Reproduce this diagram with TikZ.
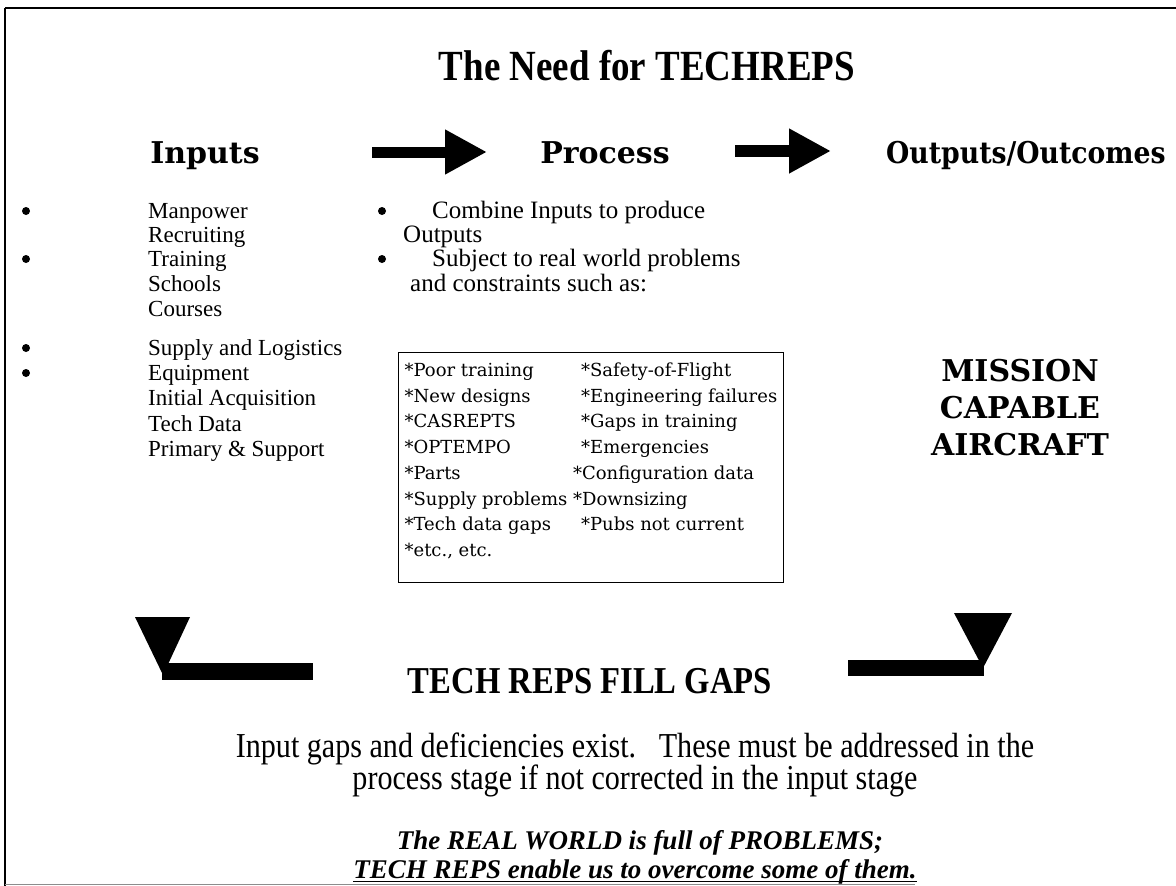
\documentclass[tikz,border=0pt]{standalone}
\usepackage{fontspec}
\setmainfont{Liberation Serif}
\newfontfamily\CondSerif{Liberation Serif}[FakeStretch=0.86]
\newfontfamily\WideSerif{DejaVu Serif}
\usetikzlibrary{arrows.meta,positioning}
\newcommand{\ItemSize}{\fontsize{23}{25}\selectfont}
\newcommand{\ColTwo}{\hspace*{8pt}}
\tikzset{
  frame/.style={line width=1.5pt},
  title/.style={font={\CondSerif\bfseries\fontsize{43}{48}\selectfont}, inner sep=0pt, anchor=base},
  heading/.style={font={\WideSerif\bfseries\fontsize{30}{36}\selectfont}, inner sep=0pt, anchor=base},
  item/.style={font=\ItemSize, inner sep=0pt, anchor=base west},
  procItem/.style={item, font={\fontsize{25}{27}\selectfont}},
  dot/.style={circle, fill=black, inner sep=0pt, minimum size=8pt},
  fatArrow/.style={-{Triangle[length=42pt,width=42pt]}, line width=11pt},
  problemBox/.style={draw, line width=1.2pt, anchor=north west, minimum width=379pt,
    minimum height=228pt, inner sep=6pt, font={\WideSerif\fontsize{18}{25.7}\selectfont}},
  outcome/.style={font={\WideSerif\bfseries\fontsize{30}{37}\selectfont}, align=center, inner sep=0pt},
  gapHead/.style={font={\CondSerif\bfseries\fontsize{38}{42}\selectfont}, inner sep=0pt, anchor=base},
  gapText/.style={font={\CondSerif\fontsize{35}{36}\selectfont}, inner sep=0pt, anchor=base},
  moral/.style={font={\bfseries\itshape\fontsize{27}{29}\selectfont}, inner sep=0pt, anchor=base}
}

\begin{document}
\begin{tikzpicture}[x=1pt,y=-1pt]
  \useasboundingbox (0,0) rectangle (1176,886);
  % page frame (top, left, bottom)
  \draw[frame, line width=2pt] (5,8) -- (1176,8);
  \draw[frame] (5,8) -- (5,886);
  \draw[black!45, line width=1pt] (5,884) -- (915,884);

  \node[title] (title) at (647,80) {The Need for TECHREPS};

  % column headings
  \node[heading] (inputs) at (205,163) {Inputs};
  \node[heading] (process) at (605,163) {Process};
  \node[heading] (outputs) at (1026,163) {\scalebox{0.89}[1]{Outputs/Outcomes}};
  \coordinate (a1s) at (372,152);
  \coordinate (a1e) at (487,152);
  \coordinate (a2s) at (735,151);
  \coordinate (a2e) at (831,151);
  \draw[fatArrow] (a1s) -- (a1e);
  \draw[fatArrow, line width=12pt] (a2s) -- (a2e);

  % inputs list
  \foreach \y/\txt [count=\i] in {218/Manpower, 242/Recruiting, 266/Training, 291/Schools,
      316/Courses, 355/Supply and Logistics, 380/Equipment, 405/Initial Acquisition,
      431/Tech Data, 456/Primary \& Support}{
    \node[item] (inp\i) at (148,\y) {\txt};
  }
  \foreach \y [count=\i] in {211,259,348,373}{
    \node[dot] (ib\i) at (26,\y) {};
  }

  % process bullets
  \node[dot] (pb1) at (382,211) {};
  \node[dot] (pb2) at (382,259) {};
  \node[procItem] (proc1) at (432,218) {Combine Inputs to produce};
  \node[procItem] (proc2) at (403,242) {Outputs};
  \node[procItem] (proc3) at (432,266) {Subject to real world problems};
  \node[procItem] (proc4) at (410,291) {and constraints such as:};

  % problems box
  \node[problemBox] (problems) at (398,352) {%
    \begin{tabular}{@{}l@{ }l@{}}
      {}*Poor training & \ColTwo{}*Safety-of-Flight\\
      {}*New designs & \ColTwo{}*Engineering failures\\
      {}*CASREPTS & \ColTwo{}*Gaps in training\\
      {}*OPTEMPO & \ColTwo{}*Emergencies\\
      {}*Parts & {}*Configuration data\\
      {}*Supply problems & {}*Downsizing\\
      {}*Tech data gaps & \ColTwo{}*Pubs not current\\
      {}*etc., etc. & \\[12pt]
    \end{tabular}};

  \node[outcome] (mission) at (1020,408) {MISSION\\CAPABLE\\AIRCRAFT};

  % bent arrows
  \fill (135,617) -- (190,617) -- (163,675) -- cycle;
  \fill (162,663) rectangle (313,680);
  \fill (954,613) -- (1012,613) -- (983,668) -- cycle;
  \fill (848,660) rectangle (984,676);

  \node[gapHead] (fill) at (590,693) {TECH REPS FILL GAPS};
  \node[gapText] (gapA) at (635,757) {Input gaps and deficiencies exist.\ \ \ These must be addressed in the};
  \node[gapText] (gapB) at (635,789) {process stage if not corrected in the input stage};

  \node[moral] (moralA) at (640,849) {The REAL WORLD is full of PROBLEMS;};
  \node[moral] (moralB) at (635,878) {TECH REPS enable us to overcome some of them.};
  \draw[line width=1pt] ([yshift=-3pt]moralB.base west) -- ([yshift=-3pt]moralB.base east);
\end{tikzpicture}
\end{document}
